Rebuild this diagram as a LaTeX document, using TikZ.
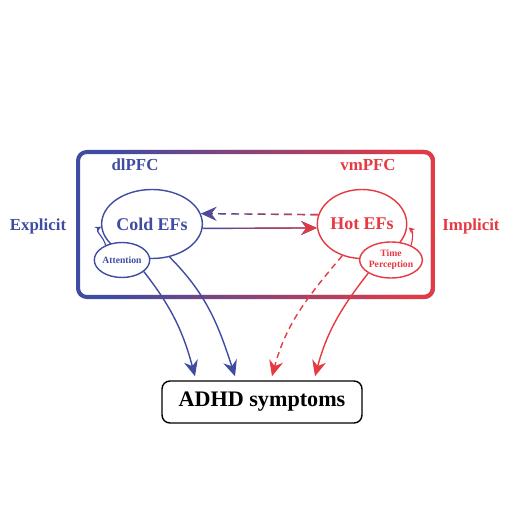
\documentclass[tikz,border=0pt]{standalone}
\usepackage{fontspec}
\setmainfont{Liberation Serif}
\usetikzlibrary{shapes.geometric, arrows.meta, positioning, calc, fadings}

\definecolor{coldblue}{RGB}{64,76,162}
\definecolor{hotred}{RGB}{230,58,66}

% fadings for the blue-to-red strokes
\pgfdeclarehorizontalshading{frameshade}{100bp}{color(0bp)=(black); color(30bp)=(black); color(72bp)=(white); color(100bp)=(white)}
\tikzfading[name=frame fade, shading=frameshade]
\tikzfading[name=red in, left color=transparent!100, right color=transparent!0]

\begin{document}
\begin{tikzpicture}[
    x=0.02cm, y=0.02cm,
    every node/.style={font=\bfseries},
    ef/.style={ellipse, draw, line width=0.8pt, fill=white, inner sep=0pt, minimum width=1.72cm, minimum height=1.38cm, font=\fontsize{10.2}{12}\selectfont\bfseries},
    subef/.style={ellipse, draw, line width=0.8pt, fill=white, inner sep=0pt, align=center, font=\fontsize{5.5}{6.2}\selectfont\bfseries},
    region/.style={font=\fontsize{9.6}{11}\selectfont\bfseries},
    framebar/.style={line width=2.3pt, rounded corners=5pt},
    flow/.style={line width=0.8pt, -{Stealth[length=9pt, width=8pt, inset=3pt]}},
    recur/.style={line width=0.65pt, -{Stealth[length=3.5pt, width=3.5pt]}}
]
\useasboundingbox (0,0) rectangle (513,513);

% prefrontal frame
\node[minimum width=7.1cm, minimum height=2.9cm, outer sep=0pt] (pfc) at (255.5,288.5) {};
\draw[framebar, coldblue] (pfc.north west) rectangle (pfc.south east);
\draw[framebar, hotred, path fading=frame fade] (pfc.north west) rectangle (pfc.south east);

\node[region, text=coldblue] (dlpfc) at (135,348) {dlPFC};
\node[region, text=hotred] (vmpfc) at (368,348) {vmPFC};
\node[region, text=coldblue] (explicit) at (38,287) {Explicit};
\node[region, text=hotred] (implicit) at (471,287) {Implicit};

\node[ef, draw=coldblue, text=coldblue] (cold) at (152,289) {Cold EFs};
\node[ef, draw=hotred, text=hotred] (hot) at (362,289) {Hot EFs};
\node[subef, draw=coldblue, text=coldblue, minimum width=1.1cm, minimum height=0.7cm] (attention) at (122,253) {Attention};
\node[subef, draw=hotred, text=hotred, minimum width=1.06cm, minimum height=0.72cm] (time) at (391,253) {Time\\Perception};

\node[draw, rounded corners=4.5pt, line width=0.8pt, minimum width=4cm, minimum height=0.84cm, font=\fontsize{12.6}{14}\selectfont\bfseries] (adhd) at (262,111) {ADHD symptoms};
\foreach \n/\dx in {1/-67, 2/-27, 3/10, 4/53}
    \coordinate (in\n) at ($(adhd.north)+(\dx,4)$);

% cold <-> hot
\draw[flow, coldblue] (cold.-5) -- (hot.185);
\draw[flow, hotred, path fading=red in] ([yshift=6pt]cold.-5) ([yshift=-6pt]cold.-5) (cold.-5) -- (hot.185);
\draw[flow, coldblue, dash pattern=on 4.5pt off 3pt] (hot.168) -- (cold.12);
\draw[flow, hotred, dash pattern=on 4.5pt off 3pt, path fading=red in] ([yshift=6pt]hot.168) ([yshift=-6pt]hot.168) (hot.168) -- (cold.12);

% self loops
\draw[recur, coldblue] (attention.138) to[out=100, in=210] (cold.183);
\draw[recur, hotred, shorten >=1pt] (time.36) to[out=75, in=-40] (hot.-3);

% to symptoms
\draw[flow, coldblue] (attention.-28) to[out=-52, in=105] (in1);
\draw[flow, coldblue] (cold.-62) to[out=-45, in=108] (in2);
\draw[flow, hotred, dash pattern=on 3.5pt off 2.5pt] (hot.-122) to[out=-130, in=75] (in3);
\draw[flow, hotred] (time.-150) to[out=-128, in=75] (in4);

\end{tikzpicture}
\end{document}
